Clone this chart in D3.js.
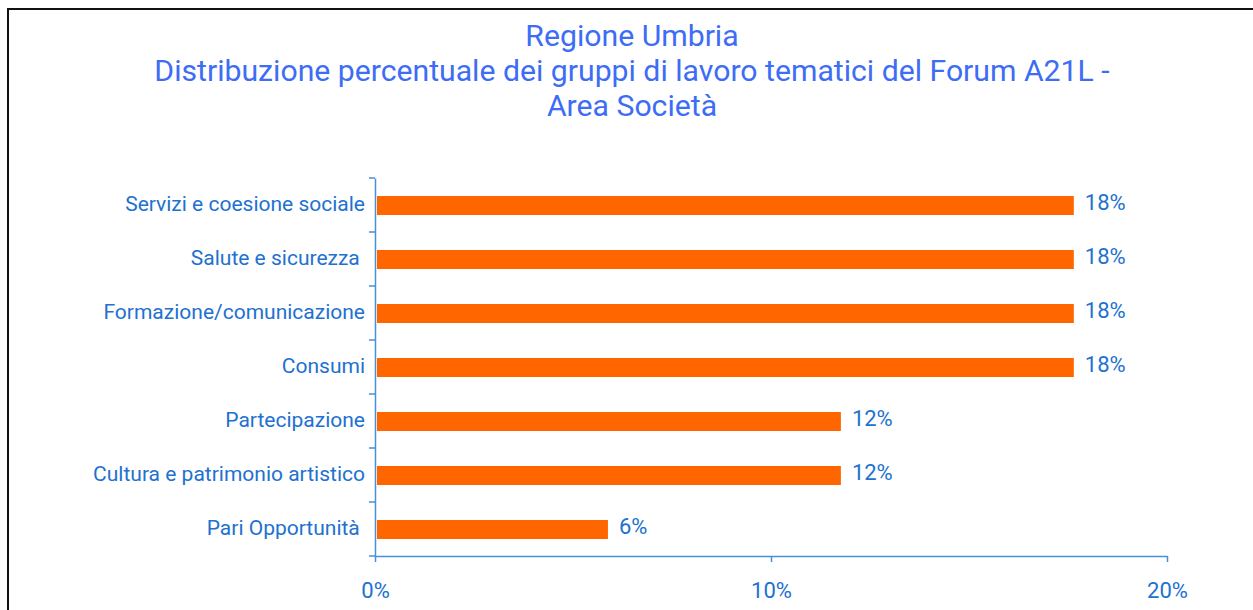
<!DOCTYPE html>
<html>
<head>
<meta charset="UTF-8">
<title>Regione Umbria</title>
<script src="https://cdn.jsdelivr.net/npm/d3@7"></script>
<style>
  body { margin: 0; background: #fff; }
  text { font-family: Roboto, "Noto Sans", sans-serif; }
</style>
</head>
<body>
<script>
// data (groups out of 34)
var categories = ["Servizi e coesione sociale", "Salute e sicurezza ", "Formazione/comunicazione",
                  "Consumi", "Partecipazione", "Cultura e patrimonio artistico", "Pari Opportunità "];
var values = [6 / 34, 6 / 34, 6 / 34, 6 / 34, 4 / 34, 4 / 34, 2 / 34];
var xTicks = [0, 0.1, 0.2];
var titleLines = ["Regione Umbria",
                  "Distribuzione percentuale dei gruppi di lavoro tematici del Forum A21L -",
                  "Area Società"];

var width = 1253, height = 610;
var svg = d3.select("body").append("svg")
    .attr("width", width)
    .attr("height", height);

// frame
svg.append("rect")
    .attr("x", 8).attr("y", 9)
    .attr("width", width + 20).attr("height", height + 20)
    .attr("fill", "none")
    .attr("stroke", "#111")
    .attr("stroke-width", 2);

// title
svg.append("g").selectAll("text")
    .data(titleLines)
    .enter().append("text")
    .attr("x", 632)
    .attr("y", function(d, i) { return 46 + i * 35; })
    .attr("text-anchor", "middle")
    .attr("fill", "#3d6cf5")
    .style("font-size", "30.2px")
    .text(function(d) { return d; });

var plotLeft = 375, plotRight = 1167, plotTop = 178, plotBottom = 556;

var x = d3.scaleLinear().domain([0, 0.2]).range([plotLeft, plotRight]);
var y = d3.scaleBand().domain(categories).range([plotTop, plotBottom]);

var axisColor = "#4a8fd9", textColor = "#2171cf";

// bars
svg.append("g").selectAll("rect")
    .data(values)
    .enter().append("rect")
    .attr("x", x(0) + 2)
    .attr("y", function(d, i) { return y(categories[i]) + y.bandwidth() / 2 - 9; })
    .attr("width", function(d) { return x(d) - x(0) - 2; })
    .attr("height", 19)
    .attr("fill", "#ff6600");

// value labels
svg.append("g").selectAll("text")
    .data(values)
    .enter().append("text")
    .attr("x", function(d) { return x(d) + 11; })
    .attr("y", function(d, i) { return y(categories[i]) + y.bandwidth() / 2 + 5; })
    .attr("fill", textColor)
    .style("font-size", "22px")
    .text(function(d) { return Math.round(d * 100) + "%"; });

// y axis
var yAxis = svg.append("g")
    .attr("transform", "translate(" + plotLeft + ",0)")
    .call(d3.axisLeft(y).tickSize(0).tickFormat(""));
yAxis.select(".domain").attr("stroke", axisColor).attr("stroke-width", 1.5);

// ticks between the bands
svg.append("g").selectAll("line")
    .data(d3.range(categories.length + 1))
    .enter().append("line")
    .attr("x1", plotLeft - 6).attr("x2", plotLeft)
    .attr("y1", function(i) { return plotTop + i * y.step(); })
    .attr("y2", function(i) { return plotTop + i * y.step(); })
    .attr("stroke", axisColor)
    .attr("stroke-width", 1.5);

// category labels (right-aligned, trailing spaces preserved)
svg.append("g").selectAll("text")
    .data(categories)
    .enter().append("text")
    .attr("x", plotLeft - 10)
    .attr("y", function(d) { return y(d) + y.bandwidth() / 2 + 6; })
    .attr("text-anchor", "end")
    .attr("fill", textColor)
    .style("font-size", "21px")
    .style("white-space", "pre")
    .text(function(d) { return d; });

// x axis
var xAxis = svg.append("g")
    .attr("transform", "translate(0," + plotBottom + ")")
    .call(d3.axisBottom(x).tickValues(xTicks).tickSize(6).tickSizeOuter(0).tickPadding(20)
        .tickFormat(d3.format(".0%")));
xAxis.select(".domain").attr("stroke", axisColor).attr("stroke-width", 1.5);
xAxis.selectAll(".tick line").attr("stroke", axisColor).attr("stroke-width", 1.5);
xAxis.selectAll(".tick text")
    .attr("fill", textColor)
    .style("font-size", "22px")
    .style("font-family", "Roboto, sans-serif");
</script>
</body>
</html>
